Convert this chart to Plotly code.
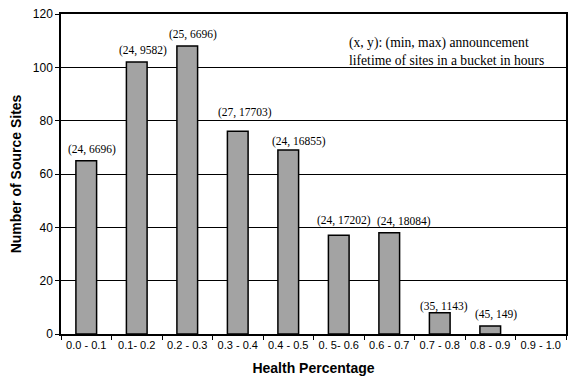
import plotly.graph_objects as go

buckets = ["0.0 - 0.1", "0.1- 0.2", "0.2 - 0.3", "0.3 - 0.4", "0.4 - 0.5",
           "0. 5- 0.6", "0.6 - 0.7", "0.7 - 0.8", "0.8 - 0.9", "0.9 - 1.0"]
site_counts = [65, 102, 108, 76, 69, 37, 38, 8, 3, 0]
lifetime_labels = ["(24, 6696)", "(24, 9582)", "(25, 6696)", "(27, 17703)", "(24, 16855)",
                   "(24, 17202)", "(24, 18084)", "(35, 1143)", "(45, 149)", ""]

# empty buckets get no outline so nothing shows on the baseline
outline_widths = [1.5 if v > 0 else 0 for v in site_counts]

# hand nudges (px) for labels that would otherwise crowd each other
label_nudge = {"0.3 - 0.4": (1, 7), "0.4 - 0.5": (5, -3), "0. 5- 0.6": (-1, 3),
               "0.6 - 0.7": (9, 0), "0.7 - 0.8": (-2, -5)}

fig = go.Figure()
fig.add_trace(go.Bar(
    x=buckets, y=site_counts,
    marker=dict(color="#a3a3a3", line=dict(color="black", width=outline_widths)),
    width=0.41,
))

for b, v, t in zip(buckets, site_counts, lifetime_labels):
    if t:
        dx, dy = label_nudge.get(b, (0, 0))
        fig.add_annotation(x=b, y=v, text=t, showarrow=False, yanchor="bottom",
                           xshift=6 + dx, yshift=3 + dy,
                           font=dict(family="Liberation Serif", size=11.5, color="black"))

fig.add_annotation(xref="paper", yref="paper", x=0.566, y=0.94, xanchor="left", yanchor="top",
                   align="left", showarrow=False,
                   text="(x, y): (min, max) announcement<br>lifetime of sites in a bucket in hours",
                   font=dict(family="Liberation Serif", size=13.6, color="black"))

fig.update_layout(
    width=574, height=378,
    margin=dict(l=61, r=8, t=14, b=44),
    paper_bgcolor="white", plot_bgcolor="white",
    showlegend=False,
    font=dict(family="Liberation Sans", color="black"),
    xaxis=dict(
        showline=True, linecolor="black", linewidth=1.5, mirror=True,
        ticks="outside", tickson="boundaries", ticklen=4, tickcolor="black",
        tickangle=0, automargin=False,
        tickfont=dict(size=11), showgrid=False,
        title=dict(text="<b>Health Percentage</b>", font=dict(size=14), standoff=13),
    ),
    yaxis=dict(
        range=[0, 120], dtick=20,
        showline=True, linecolor="black", linewidth=1.5, mirror=True,
        ticks="outside", ticklen=4, tickcolor="black", automargin=False,
        showgrid=True, gridcolor="black", gridwidth=1,
        tickfont=dict(size=12),
        title=dict(text="<b>Number of Source Sites</b>", font=dict(size=14), standoff=8),
    ),
)

fig.write_html("out.html")
